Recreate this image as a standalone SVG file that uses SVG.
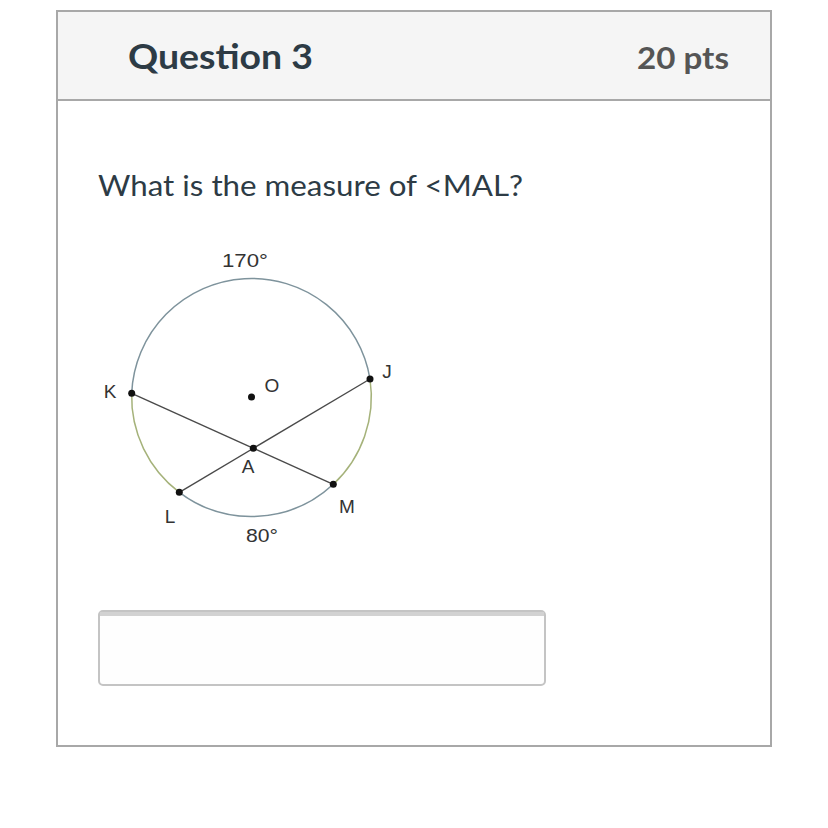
<svg xmlns="http://www.w3.org/2000/svg" width="828" height="828" viewBox="0 0 828 828">
<style>
.lato{font-family:Lato,"Open Sans","Liberation Sans",sans-serif}
.lbl{font-family:"Liberation Sans",Arial,sans-serif;font-size:19px;fill:#333}
.deg{font-family:"Liberation Sans",Arial,sans-serif;font-size:19px;fill:#333}
.chord{stroke:#4a4a4a;stroke-width:1.4;fill:none}
.arcb{stroke:#7e939c;stroke-width:1.5;fill:none}
.arcg{stroke:#a5b27a;stroke-width:1.5;fill:none}
.pt{fill:#111}
</style>
<rect x="0" y="0" width="828" height="828" fill="#ffffff"/>
<g id="card">
<rect x="57" y="11" width="714" height="735" fill="#ffffff" stroke="#a8a8a8" stroke-width="2"/>
<rect x="57" y="11" width="714" height="89" fill="#f5f5f5" stroke="#a8a8a8" stroke-width="2"/>
<text x="128" y="69" class="lato" font-size="34" font-weight="bold" fill="#2d3b45" textLength="185" lengthAdjust="spacingAndGlyphs">Question 3</text>
<text x="637" y="69" class="lato" font-size="31" font-weight="bold" fill="#555555" textLength="92" lengthAdjust="spacingAndGlyphs">20 pts</text>
<text x="98" y="196" class="lato" font-size="29" fill="#2d3b45" textLength="425" lengthAdjust="spacingAndGlyphs">What is the measure of &lt;MAL?</text>
</g>
<g id="answer-box">
<rect x="99" y="611" width="446" height="74" rx="4" fill="#fefefe" stroke="#c4c4c4" stroke-width="2"/>
<rect x="100" y="612" width="444" height="4" fill="#d2d2d2"/>
</g>
<g id="circle">
<path class="arcb" d="M131.7 393.3 A120 120 0 0 1 370 379"/>
<path class="arcg" d="M370 379 A120 120 0 0 1 333.3 484.3"/>
<path class="arcb" d="M333.3 484.3 A120 120 0 0 1 179.3 492.3"/>
<path class="arcg" d="M179.3 492.3 A120 120 0 0 1 131.7 393.3"/>
</g>
<g id="connectors">
<line class="chord" x1="131.7" y1="393.3" x2="333.3" y2="484.3"/>
<line class="chord" x1="179.3" y1="492.3" x2="370" y2="379"/>
</g>
<g id="point-K"><circle class="pt" cx="131.7" cy="393.3" r="3.5"/><text class="lbl" x="110" y="398" text-anchor="middle">K</text></g>
<g id="point-J"><circle class="pt" cx="370" cy="379" r="3.5"/><text class="lbl" x="387" y="378" text-anchor="middle">J</text></g>
<g id="point-O"><circle class="pt" cx="251.5" cy="397" r="3.5"/><text class="lbl" x="272" y="392" text-anchor="middle">O</text></g>
<g id="point-A"><circle class="pt" cx="253.3" cy="448.3" r="3.5"/><text class="lbl" x="248" y="473" text-anchor="middle">A</text></g>
<g id="point-L"><circle class="pt" cx="179.3" cy="492.3" r="3.5"/><text class="lbl" x="170" y="523" text-anchor="middle">L</text></g>
<g id="point-M"><circle class="pt" cx="333.3" cy="484.3" r="3.5"/><text class="lbl" x="347" y="513" text-anchor="middle">M</text></g>
<g id="arc-labels">
<text class="deg" x="222" y="267" textLength="46" lengthAdjust="spacingAndGlyphs">170°</text>
<text class="deg" x="246" y="542" textLength="32" lengthAdjust="spacingAndGlyphs">80°</text>
</g>
</svg>
